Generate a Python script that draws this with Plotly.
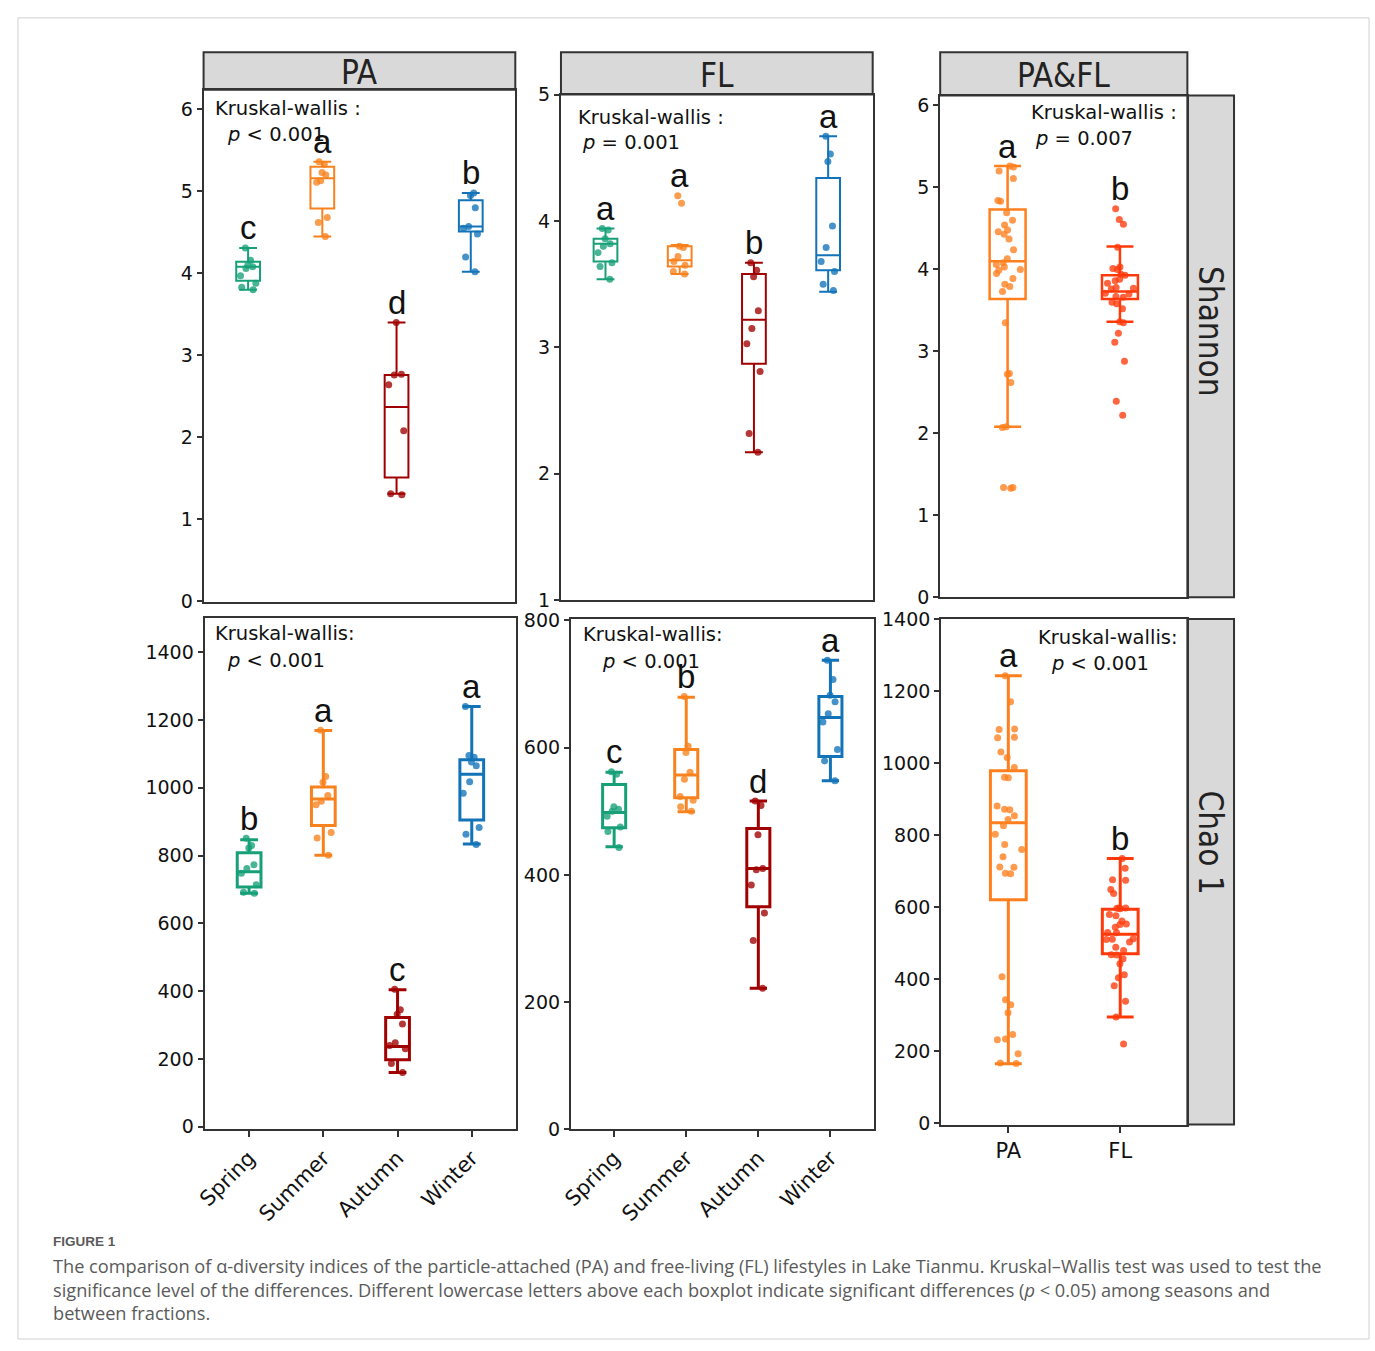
import plotly.graph_objects as go

W, H = 1375, 1351

# ---------------- data ----------------
SEASONS = ["Spring", "Summer", "Autumn", "Winter"]
FRACTIONS = ["PA", "FL"]
SEASON_COLORS = ["#17A078", "#F7821E", "#A00000", "#1273B8"]
FRACTION_COLORS = ["#FF7F1E", "#FF3A0A"]

# Shannon - PA (per season)
SH_PA_LO = [3.80, 4.45, 1.31, 4.02]
SH_PA_Q1 = [3.91, 4.79, 1.51, 4.51]
SH_PA_MED = [4.08, 5.16, 2.37, 4.57]
SH_PA_Q3 = [4.14, 5.30, 2.76, 4.89]
SH_PA_HI = [4.31, 5.36, 3.40, 4.98]
SH_PA_PTS = [
    [4.31, 4.16, 4.10, 4.08, 4.06, 3.97, 3.88, 3.83, 3.80],
    [5.36, 5.33, 5.23, 5.20, 5.13, 5.11, 4.68, 4.62, 4.45],
    [3.40, 2.77, 2.76, 2.64, 2.08, 1.31, 1.30],
    [4.98, 4.95, 4.80, 4.57, 4.55, 4.48, 4.20, 4.02],
]
SH_PA_LETTERS = ["c", "a", "d", "b"]

# Shannon - FL (per season)
SH_FL_LO = [3.54, 3.58, 2.17, 3.44]
SH_FL_Q1 = [3.68, 3.64, 2.87, 3.61]
SH_FL_MED = [3.82, 3.69, 3.22, 3.73]
SH_FL_Q3 = [3.86, 3.80, 3.58, 4.34]
SH_FL_HI = [3.94, 3.81, 3.67, 4.67]
SH_FL_PTS = [
    [3.94, 3.93, 3.86, 3.82, 3.80, 3.75, 3.67, 3.64, 3.54],
    [4.20, 4.14, 3.80, 3.79, 3.72, 3.68, 3.65, 3.60, 3.58],
    [3.67, 3.61, 3.56, 3.29, 3.15, 3.03, 2.81, 2.32, 2.17],
    [4.67, 4.53, 4.47, 3.96, 3.79, 3.68, 3.60, 3.50, 3.45],
]
SH_FL_LETTERS = ["a", "a", "b", "a"]

# Shannon - PA vs FL
SH_ALL_LO = [2.08, 3.36]
SH_ALL_Q1 = [3.64, 3.64]
SH_ALL_MED = [4.10, 3.73]
SH_ALL_Q3 = [4.73, 3.93]
SH_ALL_HI = [5.26, 4.28]
SH_ALL_PTS = [
    [5.26, 5.25, 5.20, 5.11, 4.84, 4.83, 4.69, 4.60, 4.54, 4.48, 4.46, 4.43,
     4.37, 4.24, 4.13, 4.08, 4.06, 4.03, 4.00, 3.99, 3.95, 3.89, 3.82, 3.79,
     3.73, 3.35, 2.73, 2.72, 2.62, 2.08, 2.07, 1.34, 1.34, 1.33],
    [4.74, 4.61, 4.55, 4.27, 4.03, 4.01, 4.00, 3.94, 3.93, 3.88, 3.86, 3.83,
     3.78, 3.77, 3.76, 3.71, 3.70, 3.67, 3.66, 3.60, 3.58, 3.52, 3.36, 3.35,
     3.22, 3.11, 2.88, 2.39, 2.22],
]
SH_ALL_LETTERS = ["a", "b"]

# Chao 1 - PA (per season)
CH_PA_LO = [689, 801, 160, 834]
CH_PA_Q1 = [707, 889, 198, 905]
CH_PA_MED = [752, 967, 237, 1040]
CH_PA_Q3 = [808, 1002, 322, 1083]
CH_PA_HI = [847, 1169, 404, 1240]
CH_PA_PTS = [
    [851, 830, 822, 773, 762, 748, 714, 692, 689],
    [1170, 1033, 1016, 977, 960, 950, 868, 852, 801],
    [406, 345, 332, 303, 248, 240, 230, 187, 160],
    [1240, 1095, 1090, 1076, 1065, 1018, 984, 883, 863, 833],
]
CH_PA_LETTERS = ["b", "a", "c", "a"]

# Chao 1 - FL (per season)
CH_FL_LO = [444, 499, 222, 548]
CH_FL_Q1 = [474, 521, 350, 586]
CH_FL_MED = [498, 557, 410, 647]
CH_FL_Q3 = [542, 597, 473, 680]
CH_FL_HI = [561, 679, 516, 737]
CH_FL_PTS = [
    [562, 558, 507, 503, 500, 492, 475, 468, 443],
    [680, 602, 592, 561, 550, 523, 517, 507, 500],
    [516, 509, 463, 410, 408, 384, 340, 297, 222],
    [737, 707, 682, 672, 653, 640, 597, 579, 548],
]
CH_FL_LETTERS = ["c", "b", "d", "a"]

# Chao 1 - PA vs FL
CH_ALL_LO = [165, 295]
CH_ALL_Q1 = [621, 471]
CH_ALL_MED = [835, 525]
CH_ALL_Q3 = [979, 594]
CH_ALL_HI = [1243, 735]
CH_ALL_PTS = [
    [1243, 1171, 1095, 1094, 1072, 1071, 1031, 1016, 988, 961, 960, 881, 872,
     871, 854, 844, 826, 803, 774, 760, 740, 712, 711, 694, 693, 407, 343, 329,
     307, 246, 234, 232, 193, 167, 166],
    [735, 708, 676, 675, 649, 638, 598, 598, 597, 596, 580, 576, 562, 553, 552,
     544, 530, 529, 512, 511, 510, 503, 489, 480, 468, 467, 457, 443, 412, 404,
     382, 339, 295, 220],
]
CH_ALL_LETTERS = ["a", "b"]

STRIP_TOP = ["PA", "FL", "PA&FL"]
STRIP_RIGHT = ["Shannon", "Chao 1"]
KW_HEAD = ["Kruskal-wallis :", "Kruskal-wallis :", "Kruskal-wallis :",
           "Kruskal-wallis:", "Kruskal-wallis:", "Kruskal-wallis:"]
KW_P = ["<i>p</i> &lt; 0.001", "<i>p</i> = 0.001", "<i>p</i> = 0.007",
        "<i>p</i> &lt; 0.001", "<i>p</i> &lt; 0.001", "<i>p</i> &lt; 0.001"]

# ---------------- layout helpers ----------------
def fx(x):
    return x / W


def fy(y):
    return 1 - y / H


TICK_FONT = dict(family="DejaVu Sans, Liberation Sans, sans-serif", size=19, color="#111")
TXT_FONT = dict(family="DejaVu Sans, Liberation Sans, sans-serif", size=19.5, color="#111")
LET_FONT = dict(family="Liberation Sans, Arial, sans-serif", size=33, color="#111")
STRIP_FONT = dict(family="Liberation Sans Narrow, Arial Narrow, DejaVu Sans Condensed, sans-serif",
                  size=33, color="#222")
DARK = "#333333"

panels = [
    dict(cats=SEASONS, cols=SEASON_COLORS, lo=SH_PA_LO, q1=SH_PA_Q1, med=SH_PA_MED, q3=SH_PA_Q3,
         hi=SH_PA_HI, pts=SH_PA_PTS, let=SH_PA_LETTERS,
         l=195, r=509, t=80, b=601, yr=[-0.012, 6.24], dt=1, lw=2, bottom=False,
         kw=((204, 99), (217, 126))),
    dict(cats=SEASONS, cols=SEASON_COLORS, lo=SH_FL_LO, q1=SH_FL_Q1, med=SH_FL_MED, q3=SH_FL_Q3,
         hi=SH_FL_HI, pts=SH_FL_PTS, let=SH_FL_LETTERS,
         l=555, r=869, t=85, b=599, yr=[1.0, 5.0], dt=1, lw=2, bottom=False,
         kw=((570, 108), (574, 134))),
    dict(cats=FRACTIONS, cols=FRACTION_COLORS, lo=SH_ALL_LO, q1=SH_ALL_Q1, med=SH_ALL_MED,
         q3=SH_ALL_Q3, hi=SH_ALL_HI, pts=SH_ALL_PTS, let=SH_ALL_LETTERS,
         l=937, r=1186, t=86, b=596, yr=[0, 6.12], dt=1, lw=2.5, bottom=False,
         kw=((1026, 103), (1030, 130))),
    dict(cats=SEASONS, cols=SEASON_COLORS, lo=CH_PA_LO, q1=CH_PA_Q1, med=CH_PA_MED, q3=CH_PA_Q3,
         hi=CH_PA_HI, pts=CH_PA_PTS, let=CH_PA_LETTERS,
         l=196, r=510, t=617, b=1137, yr=[-8, 1501], dt=200, lw=3, bottom=True,
         kw=((204, 633), (217, 660))),
    dict(cats=SEASONS, cols=SEASON_COLORS, lo=CH_FL_LO, q1=CH_FL_Q1, med=CH_FL_MED, q3=CH_FL_Q3,
         hi=CH_FL_HI, pts=CH_FL_PTS, let=CH_FL_LETTERS,
         l=565, r=870, t=618, b=1137, yr=[0, 802], dt=200, lw=3, bottom=True,
         kw=((575, 634), (594, 661))),
    dict(cats=FRACTIONS, cols=FRACTION_COLORS, lo=CH_ALL_LO, q1=CH_ALL_Q1, med=CH_ALL_MED,
         q3=CH_ALL_Q3, hi=CH_ALL_HI, pts=CH_ALL_PTS, let=CH_ALL_LETTERS,
         l=938, r=1186, t=618, b=1132, yr=[-4, 1401], dt=200, lw=3, bottom=True,
         kw=((1034, 637), (1047, 663))),
]

fig = go.Figure()
layout = dict(width=W, height=H, margin=dict(l=0, r=0, t=0, b=0),
              paper_bgcolor="white", plot_bgcolor="white", showlegend=False,
              boxmode="overlay")
annotations = []
shapes = []

for i, p in enumerate(panels):
    n = i + 1
    xa = "x" if n == 1 else f"x{n}"
    ya = "y" if n == 1 else f"y{n}"
    ncat = len(p["cats"])
    bw = 0.32
    for j, cat in enumerate(p["cats"]):
        col = p["cols"][j]
        fig.add_trace(go.Box(
            x=[cat], q1=[p["q1"][j]], median=[p["med"][j]], q3=[p["q3"][j]],
            lowerfence=[p["lo"][j]], upperfence=[p["hi"][j]],
            width=bw, whiskerwidth=0.75, boxpoints=False,
            line=dict(color=col, width=p["lw"]), fillcolor="rgba(255,255,255,0)",
            hoverinfo="skip", xaxis=xa, yaxis=ya))
        pts = p["pts"][j]
        fig.add_trace(go.Box(
            x=[cat] * len(pts), y=pts, width=bw, boxpoints="all", jitter=0.85, pointpos=0,
            marker=dict(color=col, size=7, opacity=0.78, line=dict(width=0)),
            line=dict(color="rgba(0,0,0,0)", width=0), fillcolor="rgba(0,0,0,0)",
            hoverinfo="skip", xaxis=xa, yaxis=ya))
        top = max([p["hi"][j]] + pts)
        annotations.append(dict(
            x=cat, y=top, xref=xa, yref=ya, text=p["let"][j], showarrow=False,
            yanchor="middle", yshift=20, font=LET_FONT))

    axkey_x = "xaxis" if n == 1 else f"xaxis{n}"
    axkey_y = "yaxis" if n == 1 else f"yaxis{n}"
    layout[axkey_x] = dict(
        domain=[fx(p["l"]), fx(p["r"])], anchor=ya, type="category",
        categoryorder="array", categoryarray=p["cats"], range=[-0.6, ncat - 0.4],
        showgrid=False, zeroline=False, showline=True, mirror=True,
        linecolor=DARK, linewidth=2,
        ticks="outside" if p["bottom"] else "", ticklen=6, tickwidth=2, tickcolor=DARK,
        showticklabels=p["bottom"], tickfont=dict(TICK_FONT, size=21),
        tickangle=-45 if (p["bottom"] and ncat == 4) else 0, fixedrange=True)
    layout[axkey_y] = dict(
        domain=[fy(p["b"]), fy(p["t"])], anchor=xa, range=p["yr"],
        tick0=0, dtick=p["dt"], showgrid=False, zeroline=False, showline=True,
        mirror=True, linecolor=DARK, linewidth=2, ticks="outside", ticklen=5,
        tickwidth=2, tickcolor=DARK, tickfont=TICK_FONT, fixedrange=True)

    (x1, y1), (x2, y2) = p["kw"]
    annotations.append(dict(x=fx(x1), y=fy(y1), xref="paper", yref="paper",
                            text=KW_HEAD[i], showarrow=False, xanchor="left",
                            yanchor="middle", font=TXT_FONT))
    annotations.append(dict(x=fx(x2), y=fy(y2), xref="paper", yref="paper",
                            text=KW_P[i], showarrow=False, xanchor="left",
                            yanchor="middle", font=TXT_FONT))

# top strips
top_strips = [(195, 509, 42, 80), (555, 869, 42, 85), (937, 1186, 42, 86)]
for k, (l, r, t, b) in enumerate(top_strips):
    shapes.append(dict(type="rect", xref="paper", yref="paper",
                       x0=fx(l), x1=fx(r), y0=fy(b), y1=fy(t),
                       fillcolor="#D9D9D9", line=dict(color=DARK, width=2), layer="below"))
    annotations.append(dict(x=fx((l + r) / 2), y=fy((t + b) / 2 + 2), xref="paper", yref="paper",
                            text=STRIP_TOP[k], showarrow=False, font=STRIP_FONT,
                            xanchor="center", yanchor="middle"))
# right strips
right_strips = [(1186, 1233, 86, 596, 326), (1186, 1233, 618, 1132, 845)]
for k, (l, r, t, b, c) in enumerate(right_strips):
    shapes.append(dict(type="rect", xref="paper", yref="paper",
                       x0=fx(l), x1=fx(r), y0=fy(b), y1=fy(t),
                       fillcolor="#D9D9D9", line=dict(color=DARK, width=2), layer="below"))
    annotations.append(dict(x=fx((l + r) / 2), y=fy(c),
                            xref="paper", yref="paper",
                            text=STRIP_RIGHT[k], showarrow=False, font=STRIP_FONT,
                            textangle=90, xanchor="center", yanchor="middle"))

# outer frame
shapes.append(dict(type="rect", xref="paper", yref="paper",
                   x0=fx(8), x1=fx(1369), y0=fy(1350), y1=fy(7),
                   line=dict(color="#CFCFCF", width=1), fillcolor="rgba(0,0,0,0)", layer="below"))

# caption
CAP_FONT = dict(family="Open Sans, Liberation Sans, Arial, sans-serif", size=18.2, color="#5A5A5A")
annotations.append(dict(x=fx(41), y=fy(1251), xref="paper", yref="paper", text="<b>FIGURE 1</b>",
                        showarrow=False, xanchor="left", yanchor="middle",
                        font=dict(family="Liberation Sans, Arial, sans-serif", size=13.5,
                                  color="#5A5A5A")))
CAPTION = [
    "The comparison of α-diversity indices of the particle-attached (PA) and free-living (FL) lifestyles in Lake Tianmu. Kruskal–Wallis test was used to test the",
    "significance level of the differences. Different lowercase letters above each boxplot indicate significant differences (<i>p</i> &lt; 0.05) among seasons and",
    "between fractions.",
]
for k, line in enumerate(CAPTION):
    annotations.append(dict(x=fx(41), y=fy(1276 + 24 * k), xref="paper", yref="paper", text=line,
                            showarrow=False, xanchor="left", yanchor="middle", font=CAP_FONT))

layout["annotations"] = annotations
layout["shapes"] = shapes
fig.update_layout(**layout)
fig.write_html("out.html")
